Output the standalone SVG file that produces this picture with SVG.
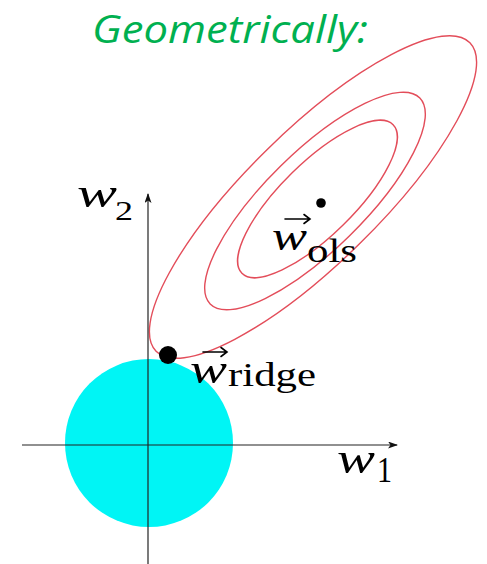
<svg xmlns="http://www.w3.org/2000/svg" width="487" height="564" viewBox="0 0 487 564">
  <style>
    .title { font-family: "Open Sans", "Liberation Sans", sans-serif; font-style: italic; fill: #00b050; }
    .mi { font-family: "Liberation Serif", "DejaVu Serif", serif; font-style: italic; fill: #000; }
    .rm { font-family: "Liberation Serif", "DejaVu Serif", serif; fill: #000; }
    .contour { fill: none; stroke: #e34d5a; stroke-width: 1.4; }
    .axis { stroke: #222; stroke-width: 1.2; fill: none; }
    .vec { stroke: #000; stroke-width: 1.6; fill: none; stroke-linecap: round; }
  </style>
  <defs>
    <marker id="axhead" viewBox="0 0 10 7" refX="9" refY="3.5" markerWidth="10" markerHeight="7" markerUnits="userSpaceOnUse" orient="auto">
      <path d="M0,0 L10,3.5 L0,7 L2.5,3.5 z" fill="#111"/>
    </marker>
  </defs>

  <rect width="487" height="564" fill="#fff"/>

  <g id="title">
    <text class="title" x="92" y="43" font-size="38" textLength="276" lengthAdjust="spacingAndGlyphs">Geometrically:</text>
  </g>

  <g id="constraint-region">
    <circle cx="149" cy="443" r="84" fill="#00f5f5"/>
  </g>

  <g id="contours">
    <ellipse class="contour" cx="313" cy="197" rx="220" ry="66" transform="rotate(-44.5 313 197)"/>
    <ellipse class="contour" cx="315" cy="201" rx="147" ry="49" transform="rotate(-44.5 315 201)"/>
    <ellipse class="contour" cx="317.5" cy="199" rx="106" ry="36.5" transform="rotate(-44.5 317.5 199)"/>
  </g>

  <g id="connectors">
    <line class="axis" x1="148" y1="564" x2="148" y2="194" marker-end="url(#axhead)"/>
    <line class="axis" x1="22" y1="445" x2="397" y2="445" marker-end="url(#axhead)"/>
  </g>

  <g id="w-ols">
    <circle cx="321" cy="203" r="4.8" fill="#000"/>
    <path class="vec" d="M285,219 L310,219 M304,214.5 L310,219 L304,223.5"/>
    <text class="mi" x="272" y="250" font-size="40" textLength="35" lengthAdjust="spacingAndGlyphs">w</text>
    <text class="rm" x="307" y="262" font-size="33" textLength="50" lengthAdjust="spacingAndGlyphs">ols</text>
  </g>

  <g id="w-ridge">
    <circle cx="168" cy="355" r="9" fill="#000"/>
    <path class="vec" d="M203,352 L227,352 M221,347.5 L227,352 L221,356.5"/>
    <text class="mi" x="190" y="383" font-size="42" textLength="37" lengthAdjust="spacingAndGlyphs">w</text>
    <text class="rm" x="228" y="386" font-size="33" textLength="88" lengthAdjust="spacingAndGlyphs">ridge</text>
  </g>

  <g id="label-w2">
    <text class="mi" x="77" y="207" font-size="42" textLength="40" lengthAdjust="spacingAndGlyphs">w</text>
    <text class="rm" x="115" y="220" font-size="27" textLength="18" lengthAdjust="spacingAndGlyphs">2</text>
  </g>

  <g id="label-w1">
    <text class="mi" x="337" y="473" font-size="44" textLength="38" lengthAdjust="spacingAndGlyphs">w</text>
    <text class="rm" x="377" y="482" font-size="35" textLength="15" lengthAdjust="spacingAndGlyphs">1</text>
  </g>
</svg>
